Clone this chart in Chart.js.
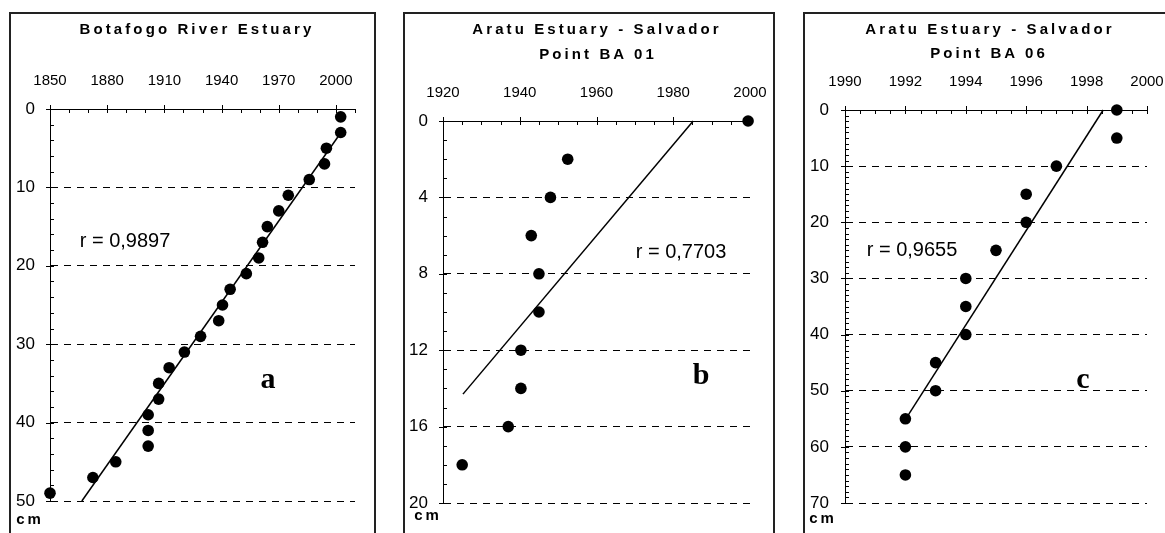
<!DOCTYPE html>
<html lang="en">
<head>
  <meta charset="UTF-8">
  <title>Sedimentation rates</title>
  <script src="https://cdn.jsdelivr.net/npm/chart.js"></script>
  <style>
    body { margin: 0; background: #fff; }
    #page { position: relative; width: 1165px; height: 533px; overflow: hidden; font-family: "Liberation Sans", Arial, sans-serif; }
    .frame { position: absolute; border: 2px solid #222; box-sizing: border-box; }
    canvas { position: absolute; }
    .txt { position: absolute; transform: translate(-50%, -50%); white-space: nowrap; color: #000; }
    .title { font-weight: bold; font-size: 15px; letter-spacing: 3.1px; }
    .r { font-size: 20px; }
    .big { font-family: "Liberation Serif", "Times New Roman", serif; font-weight: bold; font-size: 30px; }
    .cm { font-weight: bold; font-size: 15px; letter-spacing: 3px; }
  </style>
</head>
<body>
  <div id="page">
    <div class="frame" style="left:9px; top:12px; width:367px; height:560px;"></div>
    <div class="frame" style="left:403px; top:12px; width:372px; height:560px;"></div>
    <div class="frame" style="left:803px; top:12px; width:400px; height:560px;"></div>

    <canvas id="chartA" width="380" height="533" style="left:0; top:0;"></canvas>
    <canvas id="chartB" width="395" height="533" style="left:390px; top:0;"></canvas>
    <canvas id="chartC" width="420" height="533" style="left:790px; top:0;"></canvas>

    <!-- Titles -->
    <div class="txt title" style="left:197px; top:28px;">Botafogo River Estuary</div>
    <div class="txt title" style="left:597px; top:28px;">Aratu Estuary - Salvador</div>
    <div class="txt title" style="left:598px; top:53px;">Point BA 01</div>
    <div class="txt title" style="left:990px; top:28px;">Aratu Estuary - Salvador</div>
    <div class="txt title" style="left:989px; top:52px;">Point BA 06</div>

    <!-- Correlation -->
    <div class="txt r" style="left:125px; top:240px;">r = 0,9897</div>
    <div class="txt r" style="left:681px; top:251px;">r = 0,7703</div>
    <div class="txt r" style="left:912px; top:249px;">r = 0,9655</div>

    <!-- Panel letters -->
    <div class="txt big" style="left:268px; top:378px;">a</div>
    <div class="txt big" style="left:701px; top:374px;">b</div>
    <div class="txt big" style="left:1083px; top:378px;">c</div>

    <!-- Units -->
    <div class="txt cm" style="left:30px; top:518px;">cm</div>
    <div class="txt cm" style="left:428px; top:514px;">cm</div>
    <div class="txt cm" style="left:823px; top:517px;">cm</div>
  </div>

  <script>
    // a - Botafogo River Estuary
    const aYears  = [2002.5, 2002.5, 1995, 1994, 1986, 1975, 1970, 1964, 1961.5, 1959.5, 1953, 1944.5, 1940.5,
                     1938.5, 1929, 1920.5, 1912.5, 1907, 1907, 1901.5, 1901.5, 1901.5, 1884.5, 1872.5, 1850];
    const aDepths = [1, 3, 5, 7, 9, 11, 13, 15, 17, 19, 21, 23, 25, 27, 29, 31, 33, 35, 37, 39, 41, 43, 45, 47, 49];
    const aFitYears  = [1866.7, 2003.2];
    const aFitDepths = [50, 2.8];
    const aXLabels = [1850, 1880, 1910, 1940, 1970, 2000];
    const aYLabels = [0, 10, 20, 30, 40, 50];

    // b - Aratu Estuary, Point BA 01
    const bYears  = [1999.5, 1952.5, 1948, 1943, 1945, 1945, 1940.3, 1940.3, 1937, 1925];
    const bDepths = [0, 2, 4, 6, 8, 10, 12, 14, 16, 18];
    const bFitYears  = [1985.2, 1925.2];
    const bFitDepths = [0, 14.3];
    const bXLabels = [1920, 1940, 1960, 1980, 2000];
    const bYLabels = [0, 4, 8, 12, 16, 20];

    // c - Aratu Estuary, Point BA 06
    const cYears  = [1999, 1999, 1997, 1996, 1996, 1995, 1994, 1994, 1994, 1993, 1993, 1992, 1992, 1992];
    const cDepths = [0, 5, 10, 15, 20, 25, 30, 35, 40, 45, 50, 55, 60, 65];
    const cFitYears  = [1998.55, 1992.05];
    const cFitDepths = [0, 54.7];
    const cXLabels = [1990, 1992, 1994, 1996, 1998, 2000];
    const cYLabels = [0, 10, 20, 30, 40, 50, 60, 70];

    const FONT = '"Liberation Sans", Arial, sans-serif';

    // small tick marks: labelled ticks cross the axis, the others point inward
    const tickMarks = {
      id: 'tickMarks',
      beforeDatasetsDraw(chart) {
        const { ctx, chartArea, scales: { x, y } } = chart;
        ctx.save();
        ctx.strokeStyle = '#000';
        ctx.lineWidth = 1;
        ctx.beginPath();
        x.ticks.forEach(t => {
          const px = Math.round(x.getPixelForValue(t.value)) + 0.5;
          const major = t.label !== '';
          ctx.moveTo(px, chartArea.top - (major ? 4 : 0));
          ctx.lineTo(px, chartArea.top + 4);
        });
        y.ticks.forEach(t => {
          const py = Math.round(y.getPixelForValue(t.value)) + 0.5;
          const major = t.label !== '';
          ctx.moveTo(chartArea.left - (major ? 4 : 0), py);
          ctx.lineTo(chartArea.left + 4, py);
        });
        ctx.stroke();
        ctx.restore();
      }
    };

    function stepTicks(min, max, step) {
      const out = [];
      const n = Math.round((max - min) / step);
      for (let i = 0; i <= n; i++) out.push({ value: +(min + i * step).toFixed(3) });
      return out;
    }

    function makeChart(id, p) {
      const pts = p.years.map((v, i) => ({ x: v, y: p.depths[i] }));
      const fit = p.fitYears.map((v, i) => ({ x: v, y: p.fitDepths[i] }));
      new Chart(document.getElementById(id), {
        type: 'scatter',
        data: {
          datasets: [
            { data: pts, pointRadius: 5.8, pointBackgroundColor: '#000', pointBorderWidth: 0, clip: false, order: 1 },
            { data: fit, showLine: true, borderColor: '#000', borderWidth: 1.5, pointRadius: 0, clip: false, order: 2 }
          ]
        },
        options: {
          responsive: false,
          animation: false,
          events: [],
          layout: { padding: p.padding },
          plugins: { legend: { display: false }, tooltip: { enabled: false } },
          scales: {
            x: {
              type: 'linear', position: 'top',
              min: p.xMin, max: p.xMax,
              afterBuildTicks: s => { s.ticks = stepTicks(p.xMin, p.xMax, p.xStep); },
              afterFit: s => { s.height = 50; },
              grid: { display: false },
              border: { display: true, color: '#000', width: 1 },
              ticks: {
                autoSkip: false, maxRotation: 0, minRotation: 0, padding: 11,
                color: '#000', font: { family: FONT, size: 15 },
                callback: v => p.xLabels.includes(v) ? String(v) : ''
              }
            },
            y: {
              type: 'linear', position: 'left', reverse: true,
              min: 0, max: p.yMax,
              afterBuildTicks: s => { s.ticks = stepTicks(0, p.yMax, p.yStep); },
              afterFit: s => { s.width = 40; },
              grid: {
                drawTicks: false, lineWidth: 1,
                color: c => (c.tick && c.tick.value !== 0 && p.yLabels.includes(c.tick.value)) ? '#000' : 'rgba(0,0,0,0)'
              },
              border: { display: true, color: '#000', width: 1, dash: [7, 6] },
              ticks: {
                autoSkip: false, padding: p.yPad,
                color: '#000', font: { family: FONT, size: 17 },
                callback: v => p.yLabels.includes(v) ? String(v) : ''
              }
            }
          }
        },
        plugins: [tickMarks]
      });
    }

    makeChart('chartA', {
      years: aYears, depths: aDepths, fitYears: aFitYears, fitDepths: aFitDepths,
      xLabels: aXLabels, yLabels: aYLabels,
      xMin: 1850, xMax: 2010, xStep: 10, yMax: 50, yStep: 2, yPad: 15,
      padding: { left: 10, top: 59, right: 25, bottom: 32 }
    });

    makeChart('chartB', {
      years: bYears, depths: bDepths, fitYears: bFitYears, fitDepths: bFitDepths,
      xLabels: bXLabels, yLabels: bYLabels,
      xMin: 1920, xMax: 2000, xStep: 5, yMax: 20, yStep: 1, yPad: 15,
      padding: { left: 13, top: 71, right: 35, bottom: 30 }
    });

    makeChart('chartC', {
      years: cYears, depths: cDepths, fitYears: cFitYears, fitDepths: cFitDepths,
      xLabels: cXLabels, yLabels: cYLabels,
      xMin: 1990, xMax: 2000, xStep: 0.5, yMax: 70, yStep: 1, yPad: 16,
      padding: { left: 15, top: 60, right: 63, bottom: 30 }
    });
  </script>
</body>
</html>
